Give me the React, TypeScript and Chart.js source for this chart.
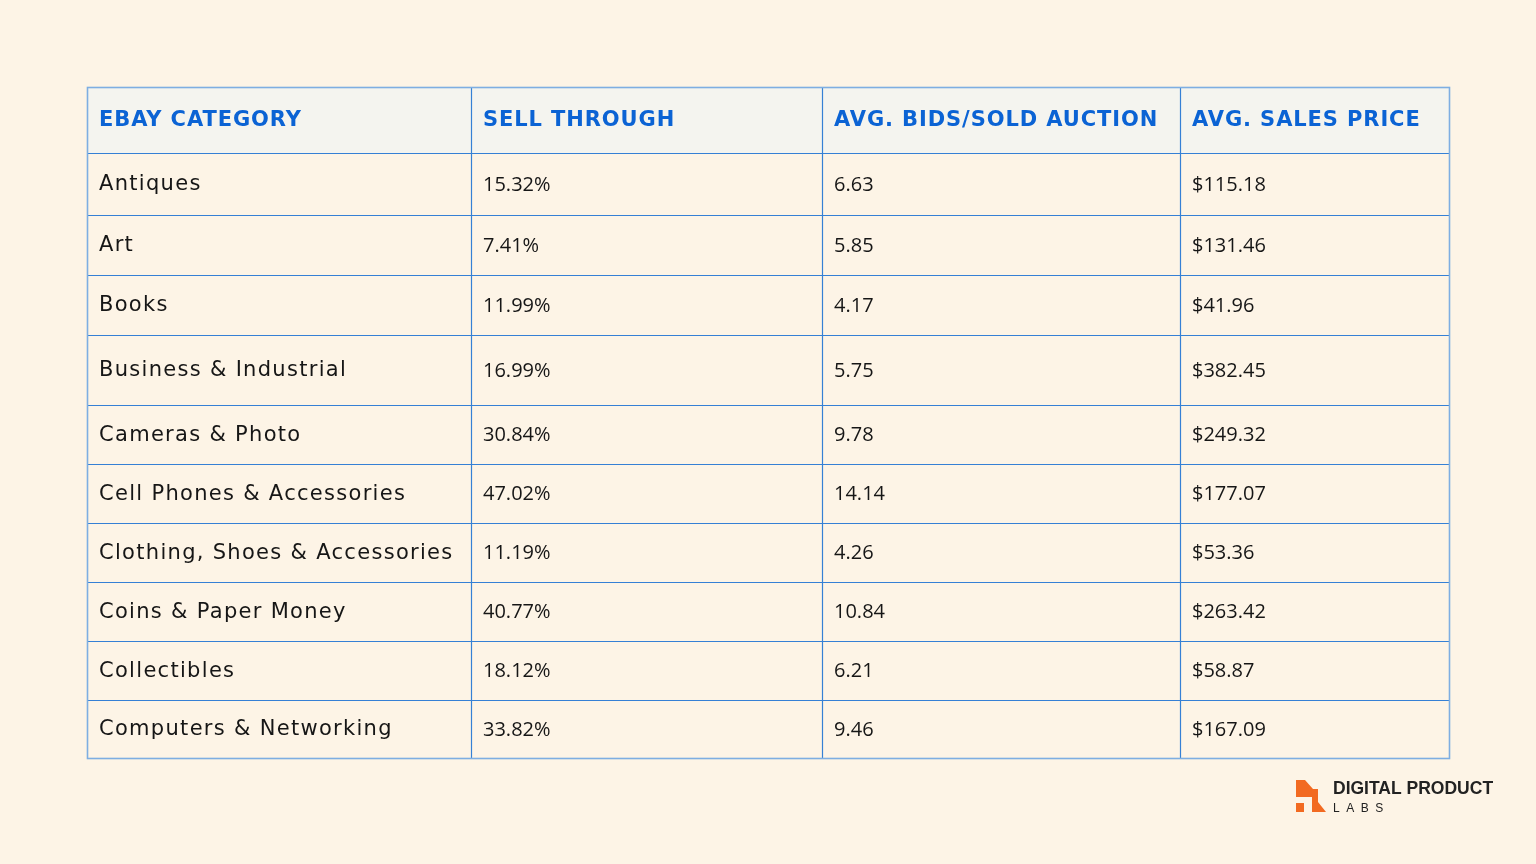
import React, { useEffect, useRef } from "react";
import { Chart, registerables } from "chart.js";

Chart.register(...registerables);

const headers = ["EBAY CATEGORY", "SELL THROUGH", "AVG. BIDS/SOLD AUCTION", "AVG. SALES PRICE"];
const categories = [
  "Antiques",
  "Art",
  "Books",
  "Business & Industrial",
  "Cameras & Photo",
  "Cell Phones & Accessories",
  "Clothing, Shoes & Accessories",
  "Coins & Paper Money",
  "Collectibles",
  "Computers & Networking",
];
const sellThrough = [15.32, 7.41, 11.99, 16.99, 30.84, 47.02, 11.19, 40.77, 18.12, 33.82];
const avgBids = [6.63, 5.85, 4.17, 5.75, 9.78, 14.14, 4.26, 10.84, 6.21, 9.46];
const avgPrice = [115.18, 131.46, 41.96, 382.45, 249.32, 177.07, 53.36, 263.42, 58.87, 167.09];

// layout (scale units)
const COL_EDGES = [0, 384, 735, 1093, 1362];
const ROW_EDGES = [0, 66, 128, 188, 248, 318, 377, 436, 495, 554, 613, 671];

const BG = "#fdf4e6";
const HEADER_BG = "#f4f4ef";
const LINE = "#3580d5";
const OUTER = "#7eaee2";
const HEAD_TEXT = "#0b63d4";
const BODY_TEXT = "#161616";

function cellText(row: number, col: number): string {
  if (col === 0) return categories[row];
  if (col === 1) return sellThrough[row].toFixed(2) + "%";
  if (col === 2) return avgBids[row].toFixed(2);
  return "$" + avgPrice[row].toFixed(2);
}

const tablePlugin = {
  id: "tablePlugin",
  beforeDraw(chart: any) {
    const ctx = chart.ctx;
    ctx.save();
    ctx.fillStyle = BG;
    ctx.fillRect(0, 0, chart.width, chart.height);
    ctx.restore();
  },
  afterDatasetsDraw(chart: any) {
    const ctx = chart.ctx as CanvasRenderingContext2D;
    const xs = chart.scales.x;
    const ys = chart.scales.y;
    const X = (v: number) => xs.getPixelForValue(v);
    const Y = (v: number) => ys.getPixelForValue(v);
    ctx.save();
    // header background
    ctx.fillStyle = HEADER_BG;
    ctx.fillRect(X(COL_EDGES[0]), Y(ROW_EDGES[0]), X(COL_EDGES[4]) - X(COL_EDGES[0]), Y(ROW_EDGES[1]) - Y(ROW_EDGES[0]));

    // inner lines
    ctx.strokeStyle = LINE;
    ctx.lineWidth = 1.2;
    for (let i = 1; i < ROW_EDGES.length - 1; i++) {
      const y = Math.round(Y(ROW_EDGES[i])) + 0.5;
      ctx.beginPath();
      ctx.moveTo(X(COL_EDGES[0]), y);
      ctx.lineTo(X(COL_EDGES[4]), y);
      ctx.stroke();
    }
    for (let j = 1; j < COL_EDGES.length - 1; j++) {
      const x = Math.round(X(COL_EDGES[j])) + 0.5;
      ctx.beginPath();
      ctx.moveTo(x, Y(ROW_EDGES[0]));
      ctx.lineTo(x, Y(ROW_EDGES[ROW_EDGES.length - 1]));
      ctx.stroke();
    }
    // outer border
    ctx.strokeStyle = OUTER;
    ctx.lineWidth = 1.6;
    ctx.strokeRect(
      X(COL_EDGES[0]) + 0.5,
      Y(ROW_EDGES[0]) + 0.5,
      X(COL_EDGES[4]) - X(COL_EDGES[0]),
      Y(ROW_EDGES[ROW_EDGES.length - 1]) - Y(ROW_EDGES[0])
    );

    // header text
    ctx.textBaseline = "middle";
    ctx.textAlign = "left";
    ctx.fillStyle = HEAD_TEXT;
    ctx.font = "bold 21px 'DejaVu Sans'";
    (ctx as any).letterSpacing = "0.9px";
    const hy = (Y(ROW_EDGES[0]) + Y(ROW_EDGES[1])) / 2 + 1;
    headers.forEach((h, j) => {
      ctx.fillText(h, X(COL_EDGES[j]) + 12, hy);
    });
    (ctx as any).letterSpacing = "0px";

    // body text
    ctx.fillStyle = BODY_TEXT;
    for (let r = 0; r < categories.length; r++) {
      const cy = (Y(ROW_EDGES[r + 1]) + Y(ROW_EDGES[r + 2])) / 2 + 1;
      for (let c = 0; c < 4; c++) {
        if (c === 0) {
          ctx.font = "21px 'DejaVu Sans'";
          (ctx as any).letterSpacing = "1.3px";
        } else {
          ctx.font = "20px 'Open Sans'";
          (ctx as any).letterSpacing = "0px";
        }
        ctx.fillText(cellText(r, c), X(COL_EDGES[c]) + 12, cy);
      }
    }
    (ctx as any).letterSpacing = "0px";

    // logo
    ctx.fillStyle = "#f26a21";
    ctx.beginPath();
    ctx.moveTo(1296, 780);
    ctx.lineTo(1305, 780);
    ctx.lineTo(1313, 789);
    ctx.lineTo(1318, 789);
    ctx.lineTo(1318, 802);
    ctx.lineTo(1326, 812);
    ctx.lineTo(1312, 812);
    ctx.lineTo(1312, 797);
    ctx.lineTo(1296, 797);
    ctx.closePath();
    ctx.fill();
    ctx.fillRect(1296, 803, 8, 9);

    ctx.fillStyle = "#222222";
    ctx.textBaseline = "alphabetic";
    ctx.font = "bold 17.5px 'Liberation Sans'";
    ctx.fillText("DIGITAL PRODUCT", 1333, 794);
    ctx.font = "12px 'Liberation Sans'";
    (ctx as any).letterSpacing = "6.5px";
    ctx.fillText("LABS", 1333, 812);
    (ctx as any).letterSpacing = "0px";
    ctx.restore();
  },
};

export default function App() {
  const ref = useRef<HTMLCanvasElement | null>(null);
  useEffect(() => {
    if (!ref.current) return;
    const points: { x: number; y: number }[] = [];
    for (let r = 0; r < categories.length; r++) {
      for (let c = 0; c < 4; c++) {
        points.push({
          x: (COL_EDGES[c] + COL_EDGES[c + 1]) / 2,
          y: (ROW_EDGES[r + 1] + ROW_EDGES[r + 2]) / 2,
        });
      }
    }
    const chart = new Chart(ref.current, {
      type: "scatter",
      data: {
        datasets: [{ label: "cells", data: points, pointRadius: 0, pointHoverRadius: 0 }],
      },
      options: {
        responsive: false,
        animation: false,
        devicePixelRatio: 1,
        layout: { padding: { left: 87, top: 87, right: 87, bottom: 106 } },
        plugins: { legend: { display: false }, tooltip: { enabled: false } },
        events: [],
        scales: {
          x: { type: "linear", min: COL_EDGES[0], max: COL_EDGES[4], display: false },
          y: { type: "linear", min: ROW_EDGES[0], max: ROW_EDGES[ROW_EDGES.length - 1], reverse: true, display: false },
        },
      },
      plugins: [tablePlugin],
    });
    return () => chart.destroy();
  }, []);
  return (
    <div style={{ position: "fixed", left: 0, top: 0, width: 1536, height: 864, background: BG }}>
      <canvas ref={ref} width={1536} height={864} style={{ display: "block" }} />
    </div>
  );
}
